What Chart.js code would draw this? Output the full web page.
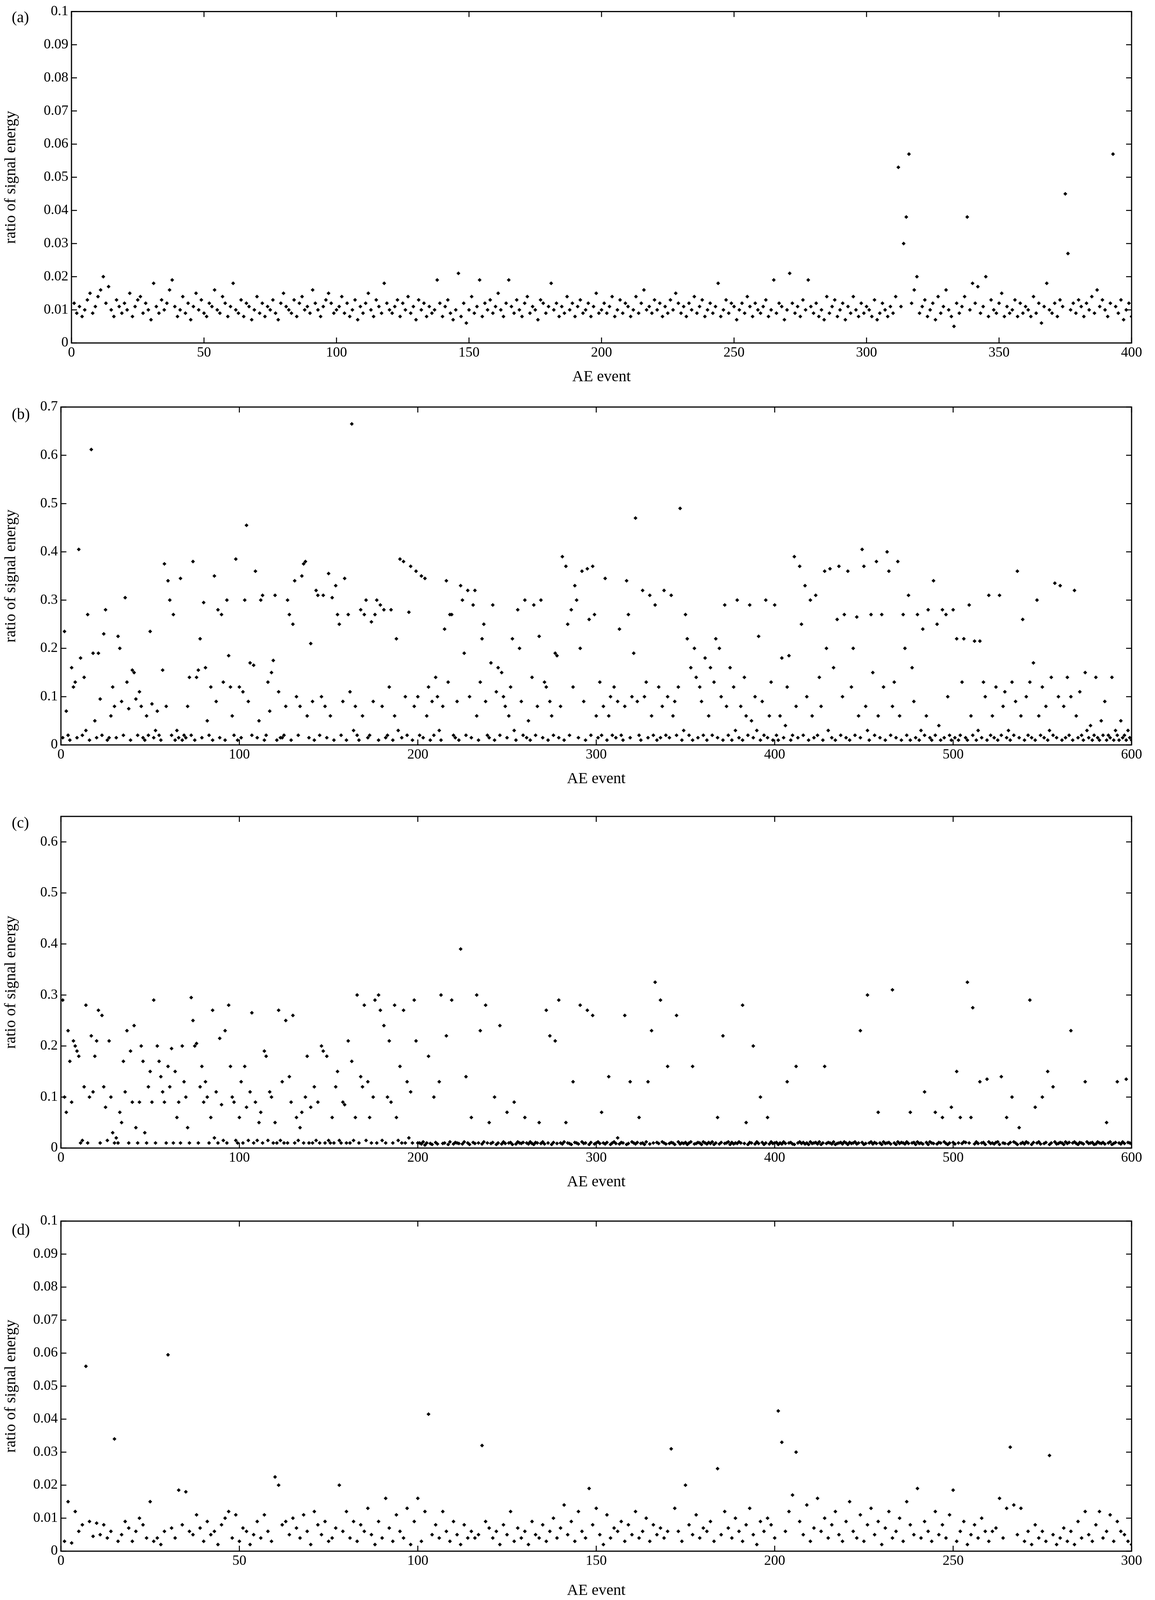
<!DOCTYPE html>
<html>
<head>
<meta charset="utf-8">
<script src="https://cdn.jsdelivr.net/npm/chart.js@4.4.0/dist/chart.umd.min.js"></script>
<style>
  body { margin: 0; background: #fff; width: 2957px; height: 4096px; position: relative; overflow: hidden; font-family: "Liberation Serif", serif; }
  .box { position: absolute; left: 0; width: 2957px; }
  .lab { position: absolute; font-size: 40px; color: #000; }
</style>
</head>
<body>
<div class="box" style="top:0;height:989px"><canvas id="ca"></canvas></div>
<div class="box" style="top:1009px;height:1009px"><canvas id="cb"></canvas></div>
<div class="box" style="top:2046px;height:1004px"><canvas id="cc"></canvas></div>
<div class="box" style="top:3084px;height:1012px"><canvas id="cd"></canvas></div>
<div class="lab" style="left:30px;top:20px">(a)</div>
<div class="lab" style="left:30px;top:1036px">(b)</div>
<div class="lab" style="left:30px;top:2082px">(c)</div>
<div class="lab" style="left:30px;top:3124px">(d)</div>
<script>
// panel (a), values in units of 0.001
const energyA = [
12,9,11,8,10,13,15,9,11,14,16,20,12,17,10,8,13,11,9,12,
10,15,8,11,13,14,9,12,10,7,18,11,9,13,10,12,16,19,11,8,
10,14,9,12,7,11,15,10,13,9,8,12,11,16,10,9,14,12,8,11,
18,10,9,13,8,12,11,7,10,14,9,12,8,11,10,13,9,7,12,15,
11,10,9,13,8,12,14,10,11,9,16,12,10,8,11,13,15,12,9,10,
11,14,9,12,8,10,13,7,11,9,12,15,10,8,13,11,9,18,12,10,
9,11,13,8,12,10,14,9,11,7,13,10,12,8,11,9,10,19,12,8,
11,13,9,7,10,21,8,12,6,10,14,9,11,19,8,12,10,13,9,11,
15,10,8,12,19,11,9,13,10,8,12,14,9,11,10,7,13,12,9,11,
18,10,12,8,11,9,14,10,12,8,11,13,9,10,12,8,11,15,9,10,
12,9,11,14,8,10,13,9,12,11,8,10,14,9,12,16,10,11,9,13,
10,12,8,11,9,13,10,15,12,9,11,8,12,10,14,9,11,13,8,10,
12,9,11,18,8,10,13,9,12,11,7,10,12,9,14,11,8,12,10,9,
11,13,8,10,19,9,12,11,7,10,21,12,9,11,8,13,10,19,11,9,
12,8,10,7,14,9,11,13,8,10,12,7,11,9,14,10,8,12,9,11,
10,8,13,7,9,12,10,8,11,9,14,53,11,30,38,57,12,16,20,9,
11,13,8,10,12,7,14,9,11,16,10,8,5,12,9,11,14,38,10,18,
12,17,9,11,20,8,13,10,9,12,15,8,11,9,10,13,8,12,9,11,
10,8,14,9,12,6,11,18,10,9,12,8,13,11,45,27,10,12,9,13,
11,8,12,10,14,9,16,11,13,10,8,12,57,11,9,13,7,10,12,8];

// panel (b), units of 0.001
const energyB = [
15,235,70,20,10,160,120,130,15,405,180,20,140,30,270,10,612,190,50,15,
190,95,20,230,280,10,15,60,120,80,15,225,200,90,20,305,130,75,10,155,
150,95,20,110,80,15,10,60,20,235,85,15,30,70,20,10,155,375,80,340,
300,20,270,10,30,15,345,10,20,15,80,140,20,380,10,140,155,220,15,295,
160,50,20,120,10,350,90,280,15,270,130,10,300,185,120,60,20,385,10,120,
15,110,300,455,90,170,20,165,360,15,50,300,310,10,20,130,70,150,175,310,
10,110,15,15,20,80,300,270,10,250,340,100,20,80,350,375,380,60,15,210,
90,10,320,310,20,100,310,80,15,355,60,305,10,330,270,250,20,90,345,10,
270,110,665,30,80,20,10,280,60,270,300,15,20,255,90,270,300,10,290,80,
280,15,20,120,280,10,60,220,30,385,15,380,100,20,275,370,10,80,360,100,
20,350,15,345,60,120,10,90,20,140,100,30,10,80,240,340,130,270,270,20,
15,90,10,330,300,190,20,320,100,15,290,320,60,10,130,220,250,90,20,15,
170,290,10,110,160,20,150,100,80,15,60,120,220,30,10,280,200,90,20,300,
15,50,10,140,290,20,80,225,300,15,130,120,10,90,60,20,190,185,15,80,
390,10,370,250,20,280,120,330,300,15,200,360,90,10,365,260,20,370,270,60,
15,130,20,80,345,10,60,100,20,120,15,90,240,20,10,80,340,270,15,100,
190,470,90,20,10,320,100,130,15,310,60,20,290,10,120,15,80,320,20,100,
15,310,60,90,20,120,490,10,30,270,220,20,160,10,200,140,15,120,90,20,
180,10,60,160,20,130,220,15,200,100,10,290,80,20,160,10,120,30,300,15,
80,10,140,60,20,290,50,15,100,30,225,10,90,20,300,15,60,130,10,290,
20,10,60,180,15,40,120,185,10,20,390,80,15,370,250,20,330,100,10,300,
60,15,310,20,140,80,10,360,200,30,365,15,160,10,260,370,20,100,270,15,
360,10,120,200,20,265,60,15,405,370,80,30,10,270,150,20,380,60,15,270,
120,10,400,360,20,80,130,15,380,60,10,270,200,20,310,10,160,90,15,270,
10,30,240,20,60,280,15,10,340,20,250,40,10,280,15,270,100,20,10,280,
15,220,10,20,130,220,15,10,290,60,20,215,10,30,215,15,130,100,10,310,
20,60,15,120,10,310,20,80,110,15,30,10,130,20,90,360,15,60,260,10,
100,20,130,15,170,10,300,60,20,120,15,80,10,30,140,20,335,15,100,330,
10,80,15,140,20,100,10,320,60,15,110,20,10,150,30,15,40,10,20,140,
15,10,50,20,90,10,20,15,140,10,30,20,10,50,15,20,10,30,15,10];

// panel (c), units of 0.001
const energyC = [
290,100,70,230,170,90,210,200,190,180,10,15,120,280,10,100,220,110,180,210,
270,10,260,120,80,15,210,100,30,10,20,10,70,50,170,110,230,10,190,90,
240,40,10,90,200,170,30,10,120,150,90,290,10,200,170,140,110,90,10,160,
120,195,10,150,60,90,10,200,130,100,40,10,295,250,200,205,10,120,160,90,
130,100,10,60,270,20,110,10,215,85,15,230,10,280,160,100,90,15,10,60,
130,10,160,80,15,110,265,10,90,15,50,70,10,190,180,15,110,100,10,50,
10,270,15,130,10,250,10,140,90,260,10,60,15,40,70,10,100,180,10,80,
10,120,15,90,10,200,190,10,180,15,10,60,10,120,150,15,10,90,85,10,
210,10,170,15,60,300,10,140,120,280,15,130,60,10,100,290,10,300,270,15,
240,10,100,210,90,10,280,60,15,160,10,270,10,130,20,110,10,290,210,10,
10,8,12,6,10,180,9,7,100,11,8,130,300,9,10,220,7,12,290,8,
11,10,9,390,8,12,140,10,7,60,11,9,300,10,230,8,12,280,10,50,
9,11,100,7,10,240,8,12,9,70,10,11,7,90,8,12,10,9,11,60,
10,8,12,9,7,11,10,50,9,12,8,270,10,220,7,11,210,9,290,10,
8,12,50,10,9,7,130,11,10,8,280,12,9,10,270,7,11,260,8,10,
12,9,70,10,8,11,140,7,10,12,9,20,8,11,10,260,7,9,130,12,
10,8,11,60,9,10,7,12,130,8,230,10,325,11,9,290,12,10,8,160,
9,11,10,7,260,12,8,10,9,11,7,10,12,160,8,9,11,10,7,12,
10,8,11,9,12,7,10,60,8,11,220,9,10,12,7,11,8,10,9,12,
10,280,9,50,7,11,10,200,8,12,9,100,11,7,10,60,8,12,9,10,
11,7,10,8,12,9,130,10,11,8,7,160,10,12,9,11,8,10,7,12,
9,10,11,8,12,7,10,160,9,11,10,8,12,7,9,10,11,8,12,10,
7,11,9,10,12,8,10,230,11,7,9,300,10,12,8,11,9,70,10,7,
12,9,10,11,8,310,10,7,12,9,11,10,8,12,9,70,10,11,7,12,
9,10,8,110,11,7,12,10,9,70,8,11,10,60,12,9,7,10,80,11,
8,150,10,60,9,12,11,325,10,60,275,8,12,9,130,10,11,7,135,12,
9,10,8,11,12,7,140,10,9,60,8,11,100,12,10,7,40,9,11,8,
12,10,290,7,11,80,10,12,8,100,9,11,150,7,10,120,12,8,9,11,
10,7,12,9,11,230,10,12,9,7,11,10,8,130,12,9,10,11,7,8,
12,10,9,11,8,50,10,12,7,9,11,130,10,8,12,9,135,11,10,8];

// panel (d), units of 0.0001
const energyD = [
30,150,25,120,60,80,560,90,45,85,50,80,40,60,340,30,50,90,70,30,
60,100,80,40,150,30,40,20,60,595,70,40,185,80,180,60,50,110,70,30,
90,50,60,20,80,100,120,40,110,30,70,60,20,50,90,40,110,60,30,225,
200,80,90,50,100,70,40,110,60,20,120,80,50,90,30,40,70,200,60,120,
40,90,30,80,60,130,50,20,90,40,160,70,30,110,60,40,130,20,90,160,
30,120,415,50,80,40,120,60,30,90,50,20,80,40,60,40,50,320,90,70,
40,60,20,80,50,120,30,70,40,60,20,90,50,40,80,30,60,100,40,70,
140,50,90,30,120,60,40,190,80,130,50,20,110,40,70,60,90,30,80,50,
120,40,60,100,30,80,50,70,40,60,310,130,60,30,200,80,50,110,40,70,
60,90,30,250,50,120,70,40,100,60,30,80,130,50,20,90,60,100,80,40,
425,330,60,120,170,300,90,50,140,30,70,160,60,100,40,80,120,50,30,90,
150,60,40,110,30,80,130,50,90,20,70,120,40,60,100,30,150,80,50,190,
40,90,60,30,120,50,80,40,110,185,30,60,90,20,50,80,40,100,60,30,
60,70,160,40,130,315,140,50,130,30,60,20,80,40,60,30,290,50,20,40,
70,30,60,20,90,40,120,50,30,80,120,40,60,110,30,90,60,50,30,20];

const FONT = 'Liberation Serif';

const frame = {
  id: 'frame',
  afterDraw(chart) {
    const { ctx, chartArea: a, scales } = chart;
    ctx.save();
    ctx.strokeStyle = '#000';
    ctx.lineWidth = 3;
    ctx.strokeRect(a.left, a.top, a.right - a.left, a.bottom - a.top);
    ctx.lineWidth = 2.5;
    const len = 14;
    scales.x.ticks.forEach(t => {
      const px = scales.x.getPixelForValue(t.value);
      ctx.beginPath();
      ctx.moveTo(px, a.bottom); ctx.lineTo(px, a.bottom - len);
      ctx.moveTo(px, a.top); ctx.lineTo(px, a.top + len);
      ctx.stroke();
    });
    scales.y.ticks.forEach(t => {
      const py = scales.y.getPixelForValue(t.value);
      ctx.beginPath();
      ctx.moveTo(a.left, py); ctx.lineTo(a.left + len, py);
      ctx.moveTo(a.right, py); ctx.lineTo(a.right - len, py);
      ctx.stroke();
    });
    ctx.restore();
  }
};

function makeChart(id, values, unit, opt) {
  const pts = values.map((v, i) => ({ x: i + 1, y: v * unit }));
  return new Chart(document.getElementById(id), {
    type: 'scatter',
    data: { datasets: [{ data: pts, backgroundColor: '#000', borderColor: '#000',
      pointStyle: 'rectRot', pointRadius: 5, borderWidth: 0 }] },
    options: {
      responsive: true, maintainAspectRatio: false, animation: false,
      layout: { padding: { top: opt.top, right: 60, left: 0, bottom: 0 } },
      plugins: { legend: { display: false }, tooltip: { enabled: false } },
      scales: {
        x: {
          min: 0, max: opt.xmax,
          ticks: { stepSize: opt.xstep, color: '#000', font: { family: FONT, size: 36 }, maxRotation: 0, padding: 4 },
          grid: { display: false, drawTicks: false },
          border: { display: false },
          title: { display: true, text: 'AE event', color: '#000', font: { family: FONT, size: 40 }, padding: 0 },
          afterFit(s) { s.height = opt.xh; }
        },
        y: {
          min: 0, max: opt.ymax,
          ticks: { stepSize: opt.ystep, color: '#000', font: { family: FONT, size: 36 }, padding: 8,
            callback: v => String(parseFloat(v.toFixed(3))) },
          afterBuildTicks(s) {
            s.ticks = s.ticks.filter(t => Math.abs(t.value / opt.ystep - Math.round(t.value / opt.ystep)) < 1e-6);
          },
          grid: { display: false, drawTicks: false },
          border: { display: false },
          title: { display: true, text: 'ratio of signal energy', color: '#000', font: { family: FONT, size: 40 }, padding: 4 },
          afterFit(s) { s.width = opt.left; }
        }
      }
    },
    plugins: [frame]
  });
}

makeChart('ca', energyA, 0.001, { top: 21, xmax: 400, xstep: 50, ymax: 0.1, ystep: 0.01, xh: 111, left: 183 });
makeChart('cb', energyB, 0.001, { top: 33, xmax: 600, xstep: 100, ymax: 0.7, ystep: 0.1, xh: 111, left: 156 });
makeChart('cc', energyC, 0.001, { top: 44, xmax: 600, xstep: 100, ymax: 0.65, ystep: 0.1, xh: 111, left: 156 });
makeChart('cd', energyD, 0.0001, { top: 42, xmax: 300, xstep: 50, ymax: 0.1, ystep: 0.01, xh: 125, left: 156 });
</script>
</body>
</html>
